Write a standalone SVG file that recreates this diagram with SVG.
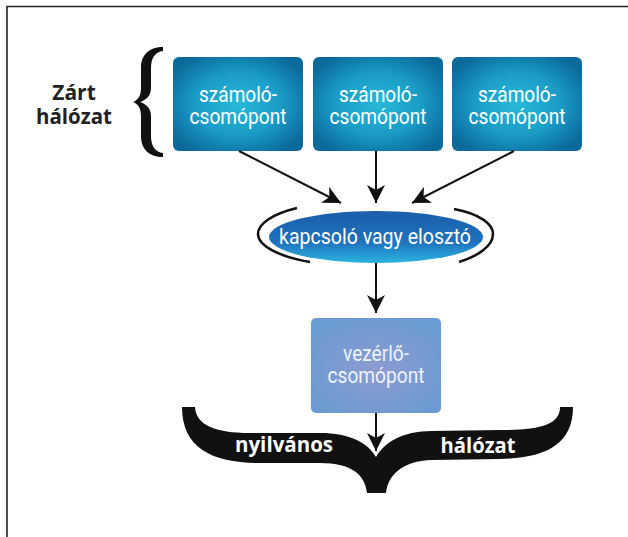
<svg xmlns="http://www.w3.org/2000/svg" width="628" height="537" viewBox="0 0 628 537">
<defs>
<radialGradient id="gBox" cx="0.5" cy="0.5" r="0.6">
<stop offset="0" stop-color="#27b9d8"/>
<stop offset="0.55" stop-color="#1a9cc6"/>
<stop offset="1" stop-color="#0b6a9c"/>
</radialGradient>
<radialGradient id="gCtl" cx="0.5" cy="0.55" r="0.6">
<stop offset="0" stop-color="#8c9bd0"/>
<stop offset="1" stop-color="#6a9bd2"/>
</radialGradient>
<linearGradient id="gEl" x1="0" y1="0" x2="0" y2="1">
<stop offset="0" stop-color="#1b5ea9"/>
<stop offset="0.6" stop-color="#1f72bd"/>
<stop offset="1" stop-color="#2cb4df"/>
</linearGradient>
<marker id="ah" markerUnits="userSpaceOnUse" markerWidth="19" markerHeight="18" refX="18" refY="9" orient="auto">
<path d="M0,0 L18,9 L0,18 L5,9 Z" fill="#111"/>
</marker>
<style>
.box{fill:url(#gBox)}
.lbl{font-family:Roboto,"Liberation Sans",sans-serif;font-size:22px;fill:#ffffff;text-anchor:middle}
.bold{font-family:"Open Sans","Liberation Sans",sans-serif;font-weight:700;font-size:21px;text-anchor:middle}
.conn{stroke:#111;stroke-width:2;fill:none;marker-end:url(#ah)}
</style>
</defs>
<rect width="628" height="537" fill="#ffffff"/>
<path d="M7,537 L7,6.5 L628,6.5" fill="none" stroke="#222" stroke-width="1.6"/>

<g id="closed-network">
<path d="M163,47 C150,47 141,54 141,68 L141,88 C141,96 138,100 133,102 C138,104 141,108 141,116 L141,136 C141,150 150,157 163,157 L163,153 C155,152 151,146 151,136 L151,116 C151,108 146,104 140,102 C146,100 151,96 151,88 L151,68 C151,58 155,52 163,51 Z" fill="#111"/>
<text class="bold" x="74" y="100" fill="#222" font-size="22">Zárt</text>
<text class="bold" x="74" y="124" fill="#222" textLength="76" lengthAdjust="spacingAndGlyphs">hálózat</text>
</g>

<g id="node1">
<rect class="box" x="173" y="57" width="130" height="94" rx="6"/>
<text class="lbl" x="238" y="102" textLength="78" lengthAdjust="spacingAndGlyphs">számoló-</text>
<text class="lbl" x="238" y="124" textLength="97" lengthAdjust="spacingAndGlyphs">csomópont</text>
</g>
<g id="node2">
<rect class="box" x="313" y="57" width="130" height="94" rx="6"/>
<text class="lbl" x="378" y="102" textLength="78" lengthAdjust="spacingAndGlyphs">számoló-</text>
<text class="lbl" x="378" y="124" textLength="97" lengthAdjust="spacingAndGlyphs">csomópont</text>
</g>
<g id="node3">
<rect class="box" x="452" y="57" width="130" height="94" rx="6"/>
<text class="lbl" x="517" y="102" textLength="78" lengthAdjust="spacingAndGlyphs">számoló-</text>
<text class="lbl" x="517" y="124" textLength="97" lengthAdjust="spacingAndGlyphs">csomópont</text>
</g>

<g id="switch">
<ellipse cx="376" cy="237" rx="107" ry="26" fill="url(#gEl)"/>
<path d="M297,208 C272,214 258,224 258,234 C258,246 280,257 310,262" fill="none" stroke="#111" stroke-width="2.5"/>
<path d="M454,209 C480,214 493,224 493,234 C493,246 478,256 459,262" fill="none" stroke="#111" stroke-width="2.5"/>
<text class="lbl" x="375" y="244" textLength="192" lengthAdjust="spacingAndGlyphs">kapcsoló vagy elosztó</text>
</g>

<g id="control">
<rect x="311" y="318" width="130" height="95" rx="5" fill="url(#gCtl)"/>
<text class="lbl" x="376" y="361" textLength="66" lengthAdjust="spacingAndGlyphs" style="fill:#eef2fb">vezérlő-</text>
<text class="lbl" x="376" y="383" textLength="97" lengthAdjust="spacingAndGlyphs" style="fill:#eef2fb">csomópont</text>
</g>

<g id="public-network">
<path d="M182,407 L195,407 C196,425 215,433 250,433 L320,433 C350,433 368,443 376,457 C384,443 402,431 432,431 L500,430 C540,430 560,425 560,407 L573,407 C573,445 545,458 500,459 L432,460 C402,461 388,475 386,493 L367,493 C365,475 352,463 320,463 L260,463 C215,463 182,450 182,407 Z" fill="#111"/>
<text class="bold" x="284" y="452" fill="#ffffff" textLength="98" lengthAdjust="spacingAndGlyphs">nyilvános</text>
<text class="bold" x="478" y="453" fill="#ffffff" textLength="75" lengthAdjust="spacingAndGlyphs">hálózat</text>
</g>

<g id="connectors">
<line class="conn" x1="239" y1="151" x2="341" y2="203"/>
<line class="conn" x1="376" y1="151" x2="376" y2="203"/>
<line class="conn" x1="514" y1="151" x2="412" y2="203"/>
<line class="conn" x1="376" y1="263" x2="376" y2="313"/>
<line class="conn" x1="376" y1="413" x2="376" y2="451"/>
</g>
</svg>
